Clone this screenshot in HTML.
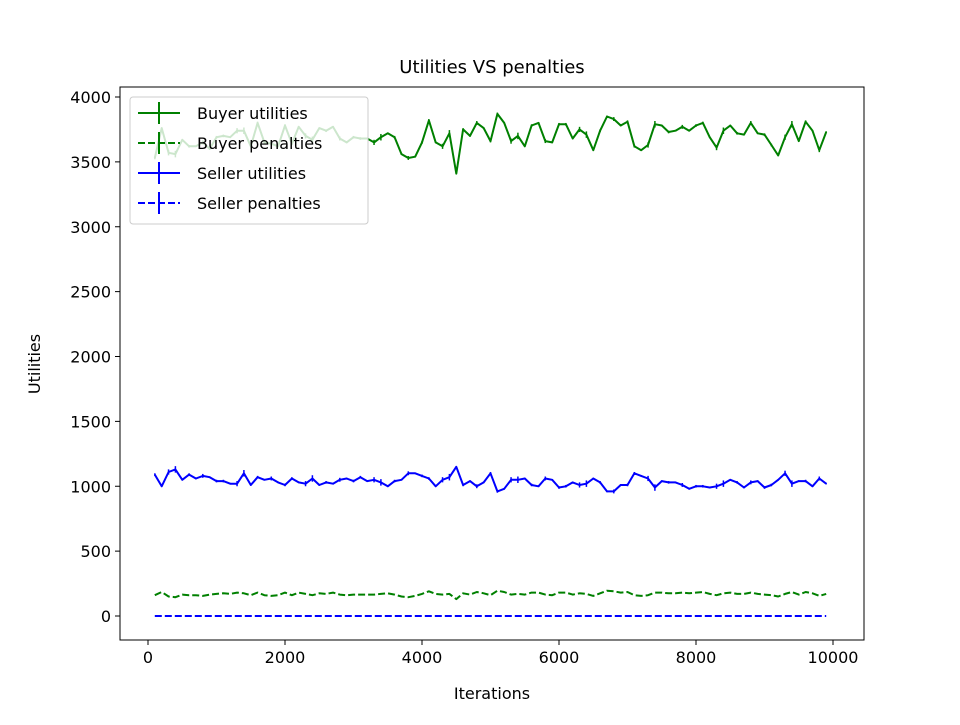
<!DOCTYPE html>
<html><head><meta charset="utf-8"><style>
body{margin:0;background:#fff}
svg text{font-family:"DejaVu Sans","Liberation Sans",sans-serif;fill:#000}
</style></head><body>
<svg id="chart" width="960" height="720" viewBox="0 0 960 720">
<rect x="0" y="0" width="960" height="720" fill="#fff"/>
<g id="plot"></g>
<rect x="120" y="87" width="744" height="553" fill="none" stroke="#000" stroke-width="1"/>
<g id="xt"></g><g id="yt"></g>
<text x="492" y="73" font-size="18" text-anchor="middle">Utilities VS penalties</text>
<text x="492" y="699" font-size="16" text-anchor="middle">Iterations</text>
<text x="40" y="364" font-size="16" text-anchor="middle" transform="rotate(-90 40 364)">Utilities</text>
<g id="legend"></g>
</svg>
<script>
const xStart = 100, xStep = 100;
const buyerUtil = [3530,3760,3570,3560,3670,3620,3620,3650,3600,3690,3700,3690,3740,3740,3620,
3800,3650,3640,3620,3780,3640,3770,3700,3670,3760,3740,3770,3680,3650,3690,
3680,3680,3650,3690,3720,3690,3560,3530,3540,3650,3820,3650,3620,3720,3410,
3750,3700,3800,3760,3660,3870,3800,3660,3700,3620,3780,3800,3660,3650,3790,
3790,3680,3750,3710,3590,3740,3850,3830,3780,3810,3620,3590,3630,3790,3780,
3730,3740,3770,3740,3780,3800,3690,3610,3740,3780,3720,3710,3800,3720,3710,
3630,3550,3690,3790,3660,3810,3740,3590,3730];
const buyerPen = [160,185,150,145,165,160,160,155,165,170,175,170,180,175,160,
180,160,155,160,180,160,180,170,160,175,170,180,165,160,165,
165,165,165,170,175,165,150,145,155,170,190,170,165,170,130,
175,165,185,175,160,195,185,165,170,165,180,180,165,160,180,
180,165,175,170,155,175,195,190,180,185,160,155,160,180,180,
175,175,180,175,180,185,170,160,175,180,170,170,180,170,165,
160,150,170,185,165,185,175,155,170];
const sellerUtil = [1090,1000,1110,1130,1050,1090,1060,1080,1070,1040,1040,1020,1020,1100,1010,
1070,1050,1060,1030,1010,1060,1030,1020,1060,1010,1030,1020,1050,1060,1040,
1070,1040,1050,1030,1000,1040,1050,1100,1100,1080,1060,1000,1050,1070,1150,
1010,1040,1000,1030,1100,960,980,1050,1050,1060,1010,1000,1060,1050,990,
1000,1030,1010,1020,1060,1030,960,960,1010,1010,1100,1080,1060,990,1040,
1030,1030,1010,980,1000,1000,990,1000,1020,1050,1030,990,1030,1040,990,
1010,1050,1100,1020,1040,1040,1000,1060,1020];
const sellerPen = new Array(99).fill(0);
const utilErr = [10,6,20,25,6,10,6,15,6,10];
const xTicks = [0,2000,4000,6000,8000,10000];
const yTicks = [0,500,1000,1500,2000,2500,3000,3500,4000];

const NS="http://www.w3.org/2000/svg";
function X(v){return 148+v*0.0685;}
function Y(v){return 616-v*0.12975;}
function mk(t,a,p){const e=document.createElementNS(NS,t);for(const k in a)e.setAttribute(k,a[k]);p.appendChild(e);return e;}
const plot=document.getElementById('plot');
function series(vals,color,dash,name,err){
  const g=mk('g',{},plot);
  
  
  let d='';
  vals.forEach((v,i)=>{const x=X(xStart+i*xStep),y=Y(v);d+=(i?'L':'M')+x.toFixed(1)+' '+y.toFixed(1);
    if(err){const e=err[i%err.length];
    mk('line',{x1:x,x2:x,y1:Y(v+e),y2:Y(v-e),stroke:color,'stroke-width':1.5},g);}});
  mk('path',{d:d,fill:'none',stroke:color,'stroke-width':2,'stroke-dasharray':dash?'7,3':'none','stroke-linejoin':'round'},g);
}
series(buyerUtil,'#008000',false,'buyer-utilities-line',utilErr);
series(buyerPen,'#008000',true,'buyer-penalties-line',null);
series(sellerUtil,'#0000ff',false,'seller-utilities-line',utilErr);
series(sellerPen,'#0000ff',true,'seller-penalties-line',null);
const xt=document.getElementById('xt');
xTicks.forEach(t=>{const x=X(t);
  mk('line',{x1:x,x2:x,y1:640,y2:645,stroke:'#000'},xt);
  const tx=mk('text',{x:x,y:663,'font-size':16,'text-anchor':'middle'},xt);tx.textContent=t;
  
  });
const yt=document.getElementById('yt');
yTicks.forEach(t=>{const y=Y(t);
  mk('line',{x1:115,x2:120,y1:y,y2:y,stroke:'#000'},yt);
  const tx=mk('text',{x:111,y:y+6,'font-size':16,'text-anchor':'end'},yt);tx.textContent=t;
  
  });
const lg=document.getElementById('legend');
mk('rect',{x:130,y:97,width:238,height:127,rx:3,fill:'#fff','fill-opacity':0.8,stroke:'#ccc'},lg);
[['Buyer utilities','#008000',false],['Buyer penalties','#008000',true],['Seller utilities','#0000ff',false],['Seller penalties','#0000ff',true]].forEach((it,i)=>{
  const y=113+i*30;
  const g=mk('g',{},lg);
  
  
  mk('line',{x1:138,x2:180,y1:y,y2:y,stroke:it[1],'stroke-width':2,'stroke-dasharray':it[2]?'7,3':'none'},g);
  mk('line',{x1:159,x2:159,y1:y-11,y2:y+11,stroke:it[1],'stroke-width':2},g);
  const t=mk('text',{x:197,y:y+6,'font-size':16},g);t.textContent=it[0];
});
</script>
</body></html>
